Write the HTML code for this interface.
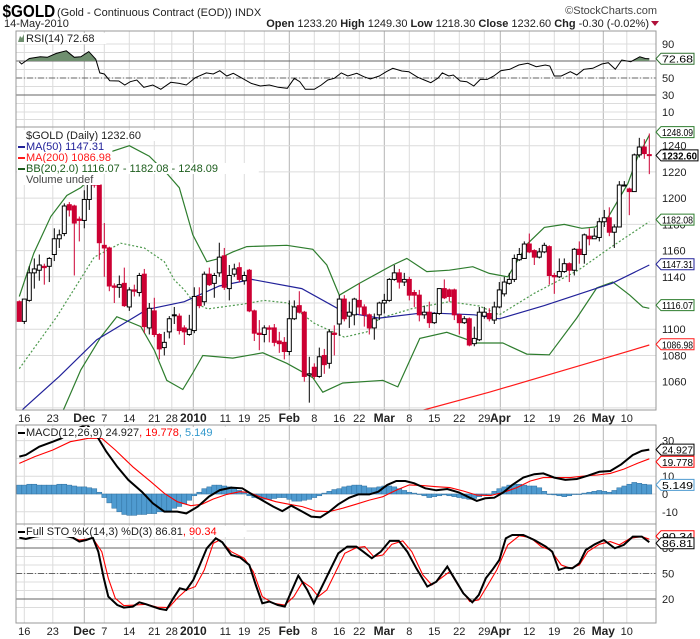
<!DOCTYPE html>
<html><head><meta charset="utf-8">
<style>
html,body{margin:0;padding:0;background:#fff;}
svg{display:block;font-family:"Liberation Sans",sans-serif;}
</style></head>
<body>
<svg id="chart" width="700" height="639" viewBox="0 0 700 639" xmlns="http://www.w3.org/2000/svg">
<defs>
<clipPath id="clipRsi"><rect x="16" y="31" width="640" height="96"/></clipPath>
<clipPath id="clipRsiUp"><rect x="16" y="31" width="640" height="30"/></clipPath>
<clipPath id="clipMain"><rect x="16" y="127" width="640" height="283"/></clipPath>
<clipPath id="clipMacd"><rect x="16" y="425" width="640" height="99"/></clipPath>
<clipPath id="clipSto"><rect x="16" y="524" width="640" height="99"/></clipPath>
</defs>
<text x="3" y="17" font-size="18" font-weight="bold" transform="scale(0.85,1)" fill="#000">$GOLD</text>
<text x="57" y="16" font-size="11" fill="#222">(Gold - Continuous Contract (EOD)) INDX</text>
<text x="657" y="14" font-size="11" fill="#444" text-anchor="end">©StockCharts.com</text>
<text x="4" y="27" font-size="11" fill="#222">14-May-2010</text>
<text x="649" y="27" font-size="11" fill="#222" text-anchor="end"><tspan font-weight="bold">Open</tspan> 1233.20 <tspan font-weight="bold">High</tspan> 1249.30 <tspan font-weight="bold">Low</tspan> 1218.30 <tspan font-weight="bold">Close</tspan> 1232.60 <tspan font-weight="bold">Chg</tspan> -0.30 (-0.02%)</text>
<polygon points="651,21 659,21 655,26" fill="#b0103a"/>
<g id="layer"></g>
</svg>
<script>
// ---- price data (candles) ----
const opens=[1121,1106,1122,1143,1145,1148,1148,1157,1169,1173,1195,1194,1184,1183,1199,1217,1210,1164,1162,1133,1132,1135,1117,1130,1128,1142,1101,1114,1096,1086,1098,1111,1110,
1101,1096,1099,1125,1121,1142,1135,1143,1156,1131,1142,1147,1137,1145,1114,1097,1096,1101,1101,1091,1090,1083,1108,1118,1113,1065,1071,1064,1080,1074,1097,1104,
1123,1110,1111,1122,1117,1111,1101,1111,1120,1122,1138,1143,1136,1138,1128,1126,1111,1113,1105,1112,1131,1130,1130,1111,1105,1108,1089,1092,1110,1112,1107,1117,
1127,1135,1138,1153,1154,1165,1160,1155,1159,1163,1141,1140,1144,1150,1145,1161,1157,1171,1169,1170,1182,1185,1174,1178,1210,1207,1205,1233,1239,1233.2];
const highs=[1122,1123,1148,1154,1157,1150,1155,1177,1176,1196,1197,1195,1186,1206,1217,1218,1211,1181,1163,1135,1141,1147,1132,1134,1143,1146,1120,1124,1097,1098,1110,1117,1112,
1103,1111,1132,1132,1144,1147,1143,1166,1162,1149,1150,1151,1144,1146,1115,1107,1103,1103,1104,1098,1094,1122,1122,1129,1114,1079,1074,1086,1085,1100,1103,1126,
1126,1121,1124,1135,1119,1112,1112,1121,1127,1139,1149,1146,1143,1140,1130,1130,1118,1121,1113,1131,1138,1131,1131,1112,1110,1109,1102,1117,1117,1116,1121,1136,
1140,1143,1157,1162,1167,1173,1161,1162,1166,1164,1143,1154,1154,1151,1162,1167,1173,1177,1177,1185,1191,1193,1180,1213,1213,1208,1234,1246,1245,1249.3];
const lows=[1106,1104,1121,1131,1137,1134,1136,1152,1162,1171,1186,1141,1167,1177,1191,1208,1153,1140,1129,1120,1124,1117,1114,1125,1125,1097,1096,1094,1077,1080,1093,1104,1096,
1088,1095,1097,1116,1118,1133,1124,1140,1130,1122,1140,1136,1134,1113,1091,1084,1090,1090,1087,1082,1077,1080,1107,1112,1060,1044,1062,1063,1066,1070,1080,1095,
1106,1101,1103,1111,1102,1096,1092,1107,1112,1121,1137,1131,1133,1122,1117,1106,1108,1101,1104,1111,1123,1121,1107,1096,1104,1087,1087,1091,1108,1106,1104,1116,
1125,1134,1136,1152,1154,1158,1149,1154,1158,1134,1127,1139,1143,1136,1141,1150,1150,1164,1169,1167,1178,1171,1162,1178,1209,1187,1205,1231,1230,1218.3];
const closes=[1106,1123,1143,1146,1149,1147,1154,1169,1172,1194,1191,1181,1183,1199,1211,1210,1166,1162,1133,1132,1134,1118,1130,1129,1141,1102,1116,1096,1085,1090,1108,1111,1099,
1098,1100,1125,1118,1142,1134,1141,1155,1132,1141,1146,1138,1141,1114,1097,1096,1101,1100,1090,1089,1083,1108,1117,1113,1064,1066,1064,1079,1073,1098,1096,1123,
1108,1113,1123,1117,1111,1101,1108,1120,1122,1138,1143,1136,1138,1126,1126,1111,1113,1105,1112,1131,1124,1125,1111,1105,1108,1088,1093,1113,1113,1108,1117,1130,
1136,1138,1154,1157,1165,1159,1155,1159,1164,1141,1140,1144,1150,1145,1161,1157,1172,1169,1171,1182,1185,1174,1178,1210,1210,1205,1233,1239,1234,1232.6];
// ---- moving averages / bands (bar index, value) ----
const ma50Idx=[0,1,8,15.5,25.5,33,40,46.5,56.5,65,72,81,91,96,105,115,118.5,126];
const ma50Val=[1036,1040,1064,1092,1115,1121,1133,1138,1131,1113,1108.5,1112.6,1111,1108,1118,1130.6,1135,1149];
const ma200Idx=[80.5,94,112.8,126];
const ma200Val=[1038,1052,1073,1088];
const bbUpIdx=[0,2.9,6.3,9.5,12.3,15,18,22,26,29.7,32,34.7,37.5,40,42.7,45.5,53.5,58.7,61.5,64,68,74.7,77.5,81.5,86,90.7,94,97.7,101.7,105,109,112.5,115.2,117.7,121.7,123.7,126];
const bbUpVal=[1125,1158,1186,1202,1208,1218,1235,1240,1232,1218,1208,1172,1151.5,1154,1159,1163,1164,1161,1149,1126,1135,1149,1154,1144,1145,1147.7,1142.6,1140,1165.5,1177.7,1180,1177,1178,1185,1211,1231.7,1248];
const bbMidIdx=[0,7.5,15,20.3,25,29,31,33,35,37.7,44.5,49,53.7,59,65,69.5,72,78.7,86,92,96,103,111.8,118.5,126];
const bbMidVal=[1070,1109.6,1155,1165.6,1162,1151.5,1137.6,1130,1120,1115.5,1119,1122,1120,1104.5,1094,1098,1108.3,1115.9,1121,1117.7,1111,1127.4,1145,1163,1182];
const bbLoIdx=[8.5,9,12.3,16.3,19.5,24.3,27,29.5,32.7,34.7,36.7,42.7,48.7,53.5,58.7,60.7,64.7,72.7,75.7,80.1,85.5,91.5,96.7,101.5,106,111.5,115.5,118.7,122.1,124.7,126];
const bbLoVal=[1036,1040,1069,1094,1109.6,1102,1084,1061,1054,1066.6,1080,1078,1082,1074,1063,1052,1059,1061,1056,1093,1097.7,1089.5,1089.5,1081,1080.5,1108.6,1131.5,1136,1126,1117,1116];
// ---- RSI ----
const rsiIdx=[0,0.45,2,4.2,5.6,7.4,9.4,11,12.3,13.9,15.3,16.1,17,18.1,19.9,21.1,22.2,23.5,24.9,26.7,28.3,30.3,32,33.4,35.2,37.4,38.8,40.1,41.5,42.8,44.6,46.4,48.2,50,51.8,53.6,55,56.1,57.2,59,60.4,61.7,63,64.4,65.7,67.5,68.9,70.2,72,73.4,74.7,76.5,77.9,79.7,81,82.3,83.7,84.6,85.9,86.8,88.2,89.5,90.9,92.2,93.6,94.9,96.3,98.1,99.9,101.7,103.4,105.2,106.1,107,108.4,110.2,111.5,112.9,114.7,116.5,117.8,119.2,120.5,122.3,124.1,125.2,126];
const rsiVal=[69,66.5,73,75,74.3,79,82,74.3,75,81,72,56,54.7,46.8,46.5,41.8,45.7,47.6,39,41.8,36.7,45,43.7,41.8,50.4,56,54.7,58.6,52.4,55.5,49.6,43.7,40.6,41.8,39,37.9,49.6,45.7,36.7,36.7,41.8,47.6,49.6,56,52.4,55.5,51.5,48.8,52.4,57.4,61.4,58.2,57.4,50.8,47.6,44.5,49.6,56,52.4,53.5,46.5,45.7,40.6,48.4,48.4,52.4,58.6,60.2,65.3,67.3,63.3,65.3,64.1,52.4,52.4,57.4,53.5,60.2,61.4,66.5,68,60.2,71.2,69.2,75,73,72.68];
// ---- MACD ----
const macdIdx=[0,1.3,4,6.7,8.4,11,13.5,15.6,17.4,19.6,21.8,24.5,26.7,29,31.6,33.4,35.7,37.9,40.1,42.4,44.6,46.8,49.1,50.8,52.6,54.4,56.6,58.4,60.2,62,63.8,66,67.8,70,71.8,73.6,75.4,77.2,79,81.2,83.4,85.6,87.9,90.1,91.5,93.2,95,96.8,98.6,100.8,103,104.8,107,109.2,111.5,113.7,116,118.2,120.4,122.7,124.5,126];
const macdVal=[21,21.9,26.6,29.4,31.3,36,39,32.2,23.8,15.3,7.9,1.3,-5.2,-9.9,-9.9,-10.9,-7.1,-1.5,2.2,3.6,3.2,-0.6,-4.3,-7.1,-9.6,-6.6,-9.9,-12.7,-13.1,-9.9,-5.8,-2.1,-0.2,-0.2,1.3,5.1,7.3,7.3,6,3.2,2.1,2.8,0.9,-2.1,-3.9,-2.4,-2.1,0.9,5.1,9.2,11.1,11.6,9.2,7.9,8.4,10.3,12.5,12.9,16.7,21.9,24.2,24.93];
const sigIdx=[0,3.1,6.7,10.2,13.8,16.5,19.2,22.7,26.3,29,31.6,34.3,36.5,38.8,41.5,44.1,45.9,48.6,51.3,54,56.6,59.3,62,64.7,67.3,70,72.7,75.4,78,80.7,83.4,86.1,88.8,91.5,94.2,96.8,99.5,102.2,104.8,107.5,110.2,112.9,115.6,118.2,120.9,123.6,126];
const sigVal=[17.2,21,24.7,29.4,31.3,31.3,24.7,15.3,6.9,0.4,-4.3,-6.6,-5.8,-2.8,-0.2,1.3,0.9,-2.1,-4.3,-5.8,-7.1,-9.6,-9.9,-8,-5.8,-3.4,-1.5,2.2,5.1,4.7,4.1,3.6,1.7,-0.6,-0.9,0.9,3.6,7.3,9.2,9.2,9.2,10.1,10.7,11.6,14,17.2,19.78];
const histVal=[5,5,5.5,5.5,5,5,5,5,5.5,5.5, 5,4.5,4,4,3.5,3,1,-2,-5,-8, -10,-11.5,-12,-12,-11.5,-11.5,-11,-11,-10,-10, -9.5,-8,-7,-5.5,-3.5,-1,1,3,4,5,
5,4.5,4,3,2,1,-1,-2,-2.5,-3, -3,-2.5,-2,-2,-3,-4,-4,-3.5,-3,-2, -1,0.5,1.5,2.5,3,4,4.5,5,5,4.5, 3.5,3.5,4,4.5,4.5,4,3,2,1,0.5,
0,-1,-2,-1.5,-1,-0.5,-1,-1.5,-2,-2.5, -3,-2.5,-1.5,-0.5,0,1.5,3,4,5,5.5, 5.5,5,4.5,4.5,3.5,1.5,0,-0.5,-1,-1.5, -1,0,0,0.5,1,1.5,2,1.5,1,2, 3.5,4.5,5.5,6.5,6,5.5,5.149];
// ---- Full stochastics ----
const stoKIdx=[0,1.3,3.1,5.8,8.4,10.7,12,13.4,14.7,15.8,16.9,17.8,19.6,20.9,22.7,24,25.4,26.7,28.1,29.4,30.8,32.1,33.4,34.8,36.1,37.5,39.3,40.6,42.4,44.2,46,47.3,48.6,50,51.7,53.1,54.4,55.8,57.6,58.9,60.2,62,63.8,65.6,67.4,68.8,70.5,72.3,74.1,75.9,77.6,79.4,81.6,83.4,85.6,87,88.8,90.6,91.9,93.3,94.6,96,97.3,98.6,100.8,103,105.3,106.6,107.9,109.3,110.6,112,113.3,115.1,116.9,119.1,120.9,122.7,124.5,126];
const stoKVal=[92.2,90.6,93.4,95.3,95.3,92.2,87.5,89.4,92.2,75.7,44.4,22.8,13,9.9,11,16.1,13.8,11,8.3,7.1,20.8,32.6,30.6,42.4,60,79.6,91.4,86.7,71.8,68.7,60,36.5,15,17,13,11,28.7,47.5,30.6,15,30.6,52.2,73.8,81.6,81.6,75.7,67.9,75.7,88.3,88.3,75.7,56.1,34.6,40.4,58.1,44.4,26.7,16.1,24.8,44.4,54.2,65.9,91.4,95.3,95.3,89.4,81.6,75.7,54.2,56.9,56.1,62,77.7,84.3,89.4,79.6,83.6,93.4,93.4,86.81];
const stoDIdx=[0,4.9,9.3,12,14.7,16.5,17.8,19.2,20.9,23.2,25.4,27.6,29.9,31.7,33.4,35.2,37,38.8,40.1,42.4,45,46.8,48.6,50.8,53.1,54.9,56.7,58.4,59.8,61.5,63.3,65.1,67.4,69.1,70.9,72.7,74.5,76.7,78.5,80.7,82.5,84.3,86.1,87.9,90.1,91.9,93.7,95.5,97.7,100,102.2,104.4,106.2,108.4,110.2,112,113.7,116,118.2,120,122.2,124.5,126];
const stoDVal=[93.4,94.5,94.5,89.4,91.4,75.7,44.4,20.8,12.2,13,13.8,10.3,9.9,21.6,30.6,34.6,54.2,85.5,89.4,75.7,67.9,52.2,22.8,15,13,22.8,40.4,33.4,22.8,30.6,52.2,73.8,80.4,81.6,69.8,71.8,84.3,88.3,75.7,48.3,36.5,44.4,52.2,34.6,17,18.9,36.5,54.2,83.6,94.5,92.2,81.6,77.7,60,56.1,60,75.7,84.3,87.5,83.6,91.4,93.4,90.34];
// ---- axis ticks ----
const dateLabels=["16","23","Dec","7","14","21","28","2010","11","19","25","Feb","8","16","22","Mar","8","15","22","29","Apr","12","19","26","May","10"];
const dateIdx=[1,6.7,13,17,22,27,30.5,34.8,41.2,45,49,54,59,64,68,73,78,83,88,93,96.2,102,107,112,116.8,121.5];
const monthLabels=["Dec","2010","Feb","Mar","Apr","May"];
const priceTicks=[1060,1080,1100,1120,1140,1160,1180,1200,1220,1240];
const rsiTicks=[90,50,30,10];
const macdTicks=[30,10,0,-10];
const stoTicks=[80,50,20];

// ---- scales ----
const L=16,R=656;
function xOf(i){return 19.3+5*i;}
function yP(p){return 145.7+(1240-p)*1.311;}
function yR(v){return 44+(90-v)*0.85;}
function yM(v){return 494-v*1.78;}
function yS(v){return 531+(100-v)*0.85;}

const NS="http://www.w3.org/2000/svg";
const layer=document.getElementById('layer');
function mk(tag,attrs,parent){const e=document.createElementNS(NS,tag);for(const k in attrs)e.setAttribute(k,attrs[k]);(parent||layer).appendChild(e);return e;}
function pathOf(idx,val,ys){return idx.map((t,j)=>(j?'L':'M')+xOf(t).toFixed(1)+','+ys(val[j]).toFixed(1)).join(' ');}

const panels=[[31,127,'rsi-panel'],[127,410,'price-panel'],[425,524,'macd-panel'],[524,623,'sto-panel']];
panels.forEach(p=>{
  dateIdx.forEach((d,k)=>{
    const isM=monthLabels.indexOf(dateLabels[k])>=0;
    const g=mk('line',{x1:xOf(d),x2:xOf(d),y1:p[0],y2:p[1],stroke:isM?'#b4b4b4':'#dcdcdc','stroke-width':1});
    
    
  });
});
for(let v=10;v<=90;v+=10){const g=mk('line',{x1:L,x2:R,y1:yR(v),y2:yR(v),stroke:'#dcdcdc'});}
for(let p=1040;p<=1260;p+=20){const g=mk('line',{x1:L,x2:R,y1:yP(p),y2:yP(p),stroke:'#dcdcdc'});}
for(let v=-10;v<=30;v+=10){const g=mk('line',{x1:L,x2:R,y1:yM(v),y2:yM(v),stroke:'#dcdcdc'});}
for(let v=10;v<=100;v+=10){const g=mk('line',{x1:L,x2:R,y1:yS(v),y2:yS(v),stroke:'#dcdcdc'});}
[[yR(70),'none'],[yR(30),'none'],[yR(50),'6,2,1,2'],[yS(80),'none'],[yS(20),'none'],[yS(50),'6,2,1,2']].forEach(r=>{
  const l=mk('line',{x1:L,x2:R,y1:r[0],y2:r[0],stroke:'#666','stroke-dasharray':r[1]});
  
  
});

// RSI
const rsiFill=mk('path',{d:pathOf(rsiIdx,rsiVal,yR)+' L'+xOf(rsiIdx[rsiIdx.length-1])+','+yR(70)+' L'+xOf(rsiIdx[0])+','+yR(70)+' Z',fill:'#6f8f6f','clip-path':'url(#clipRsiUp)'});


const rsiLine=mk('path',{d:pathOf(rsiIdx,rsiVal,yR),fill:'none',stroke:'#000','stroke-width':1,'clip-path':'url(#clipRsi)'});



function ovl(idx,val,col,name,dash,w){const e=mk('path',{d:pathOf(idx,val,yP),fill:'none',stroke:col,'stroke-width':w||1.2,'stroke-dasharray':dash||'none','clip-path':'url(#clipMain)'});
  
  }
ovl(bbUpIdx,bbUpVal,'#2e7d2e','bb-upper-band');
ovl(bbLoIdx,bbLoVal,'#2e7d2e','bb-lower-band');
ovl(bbMidIdx,bbMidVal,'#4f9a4f','bb-middle-band','2,2');
ovl(ma50Idx,ma50Val,'#22229a','ma50-line');
ovl(ma200Idx,ma200Val,'#ff1a1a','ma200-line');

const cg=mk('g',{'clip-path':'url(#clipMain)'});
closes.forEach((c,i)=>{
  const o=opens[i],x=xOf(i),up=c>=o,col=up?'#000':'#cc0033';
  const w=mk('line',{x1:x,x2:x,y1:yP(highs[i]),y2:yP(lows[i]),stroke:col,'stroke-width':1},cg);
  
  
  const top=yP(Math.max(o,c)),bot=yP(Math.min(o,c));
  const b=mk('rect',{x:x-2,y:top,width:4,height:Math.max(bot-top,1),fill:up?'#fff':'#cc0033',stroke:up?'#000':'#cc0033','stroke-width':1},cg);
  
  
});

const hg=mk('g',{'clip-path':'url(#clipMacd)'});
histVal.forEach((h,i)=>{
  const y0=yM(0),y1=yM(h);
  const r=mk('rect',{x:xOf(i)-2.5,y:Math.min(y0,y1),width:5,height:Math.max(Math.abs(y1-y0),0.5),fill:'#4f9bd0',stroke:'#2f6f9f','stroke-width':0.5},hg);
  
  
});
const sigL=mk('path',{d:pathOf(sigIdx,sigVal,yM),fill:'none',stroke:'#ff0000','stroke-width':1.1,'clip-path':'url(#clipMacd)'});


const macL=mk('path',{d:pathOf(macdIdx,macdVal,yM),fill:'none',stroke:'#000','stroke-width':2,'clip-path':'url(#clipMacd)'});



const dL=mk('path',{d:pathOf(stoDIdx,stoDVal,yS),fill:'none',stroke:'#ff0000','stroke-width':1.1,'clip-path':'url(#clipSto)'});


const kL=mk('path',{d:pathOf(stoKIdx,stoKVal,yS),fill:'none',stroke:'#000','stroke-width':2,'clip-path':'url(#clipSto)'});



panels.forEach(p=>{
  const r=mk('rect',{x:L,y:p[0],width:R-L,height:p[1]-p[0],fill:'none',stroke:'#999','stroke-width':1});
  
  
});

[418,631].forEach(yy=>{
  dateLabels.forEach((t,k)=>{
    const isM=monthLabels.indexOf(t)>=0;
    const e=mk('text',{x:xOf(dateIdx[k]),y:yy+4,'font-size':isM?12:11,'font-weight':isM?'bold':'normal','text-anchor':'middle',fill:'#222'});
    e.textContent=t;
    
    
  });
});
function rlab(txt,y){const e=mk('text',{x:662,y:y+4,'font-size':11,fill:'#222'});e.textContent=txt;
  
  }
priceTicks.forEach(p=>rlab(String(p),yP(p)));
rsiTicks.forEach(v=>rlab(String(v),yR(v)));
macdTicks.forEach(v=>rlab(String(v),yM(v)));
stoTicks.forEach(v=>rlab(String(v),yS(v)));

function tag(txt,y,col,bold,name){
  const g=mk('g',{});
  
  
  const w=bold?37:33;
  mk('polygon',{points:`656,${y} 661,${y-5.5} ${661+w},${y-5.5} ${661+w},${y+5.5} 661,${y+5.5}`,fill:'#fff',stroke:col,'stroke-width':1},g);
  const t=mk('text',{x:662,y:y+4,'font-size':10.5,'font-weight':bold?'bold':'normal',fill:'#000',textLength:w-2,lengthAdjust:'spacingAndGlyphs'},g);t.textContent=txt;
}
tag('1248.09',yP(1248.09)-3,'#2e7d2e',false,'bb-upper-value-tag');
tag('1232.60',yP(1232.6),'#000',true,'close-value-tag');
tag('1182.08',yP(1182.08)-2,'#2e7d2e',false,'bb-middle-value-tag');
tag('1147.31',yP(1147.31)-3,'#22229a',false,'ma50-value-tag');
tag('1116.07',yP(1116.07)-3,'#2e7d2e',false,'bb-lower-value-tag');
tag('1086.98',yP(1086.98)-2,'#ff1a1a',false,'ma200-value-tag');
tag('72.68',yR(72.68),'#2e6e2e',false,'rsi-value-tag');
tag('24.927',yM(24.927),'#000',false,'macd-value-tag');
tag('19.778',yM(19.778)+3,'#ff0000',false,'signal-value-tag');
tag('5.149',yM(5.149),'#4f9bd0',false,'histogram-value-tag');
tag('90.34',yS(90.34)-3,'#ff0000',false,'sto-d-value-tag');
tag('86.81',yS(86.81)+1,'#000',false,'sto-k-value-tag');

function leg(x,y,parts,name,markCol){
  const g=mk('g',{});
  
  
  const len=parts.reduce((a,p)=>a+p[0].length,0);
  mk('rect',{x:x+1,y:y-9,width:len*6.1+10,height:11,fill:'#fff'},g);
  if(markCol){mk('rect',{x:x+2,y:y-4,width:7,height:2,fill:markCol},g);}
  const t=mk('text',{x:x+10,y:y,'font-size':11},g);
  parts.forEach(p=>{const s=document.createElementNS(NS,'tspan');s.setAttribute('fill',p[1]);s.textContent=p[0];t.appendChild(s);});
}
leg(16,42,[['RSI(14) 72.68','#222']],'rsi-legend');
mk('polygon',{points:'18,42 20,36 22,38 24,34 24,42',fill:'#6f8f6f'});
leg(16,139,[['$GOLD (Daily) 1232.60','#222']],'price-legend');
leg(16,150,[['MA(50) 1147.31','#22229a']],'ma50-legend','#22229a');
leg(16,161,[['MA(200) 1086.98','#ff1a1a']],'ma200-legend','#ff1a1a');
leg(16,172,[['BB(20,2.0) 1116.07 - 1182.08 - 1248.09','#1e5e1e']],'bb-legend','#1e5e1e');
leg(16,183,[['Volume undef','#444']],'volume-legend');
leg(16,436,[['MACD(12,26,9) 24.927','#222'],[', 19.778','#ff0000'],[', 5.149','#3399cc']],'macd-legend','#000');
leg(16,535,[['Full STO %K(14,3) %D(3) 86.81','#222'],[', 90.34','#ff0000']],'sto-legend','#000');
</script>
</body></html>
